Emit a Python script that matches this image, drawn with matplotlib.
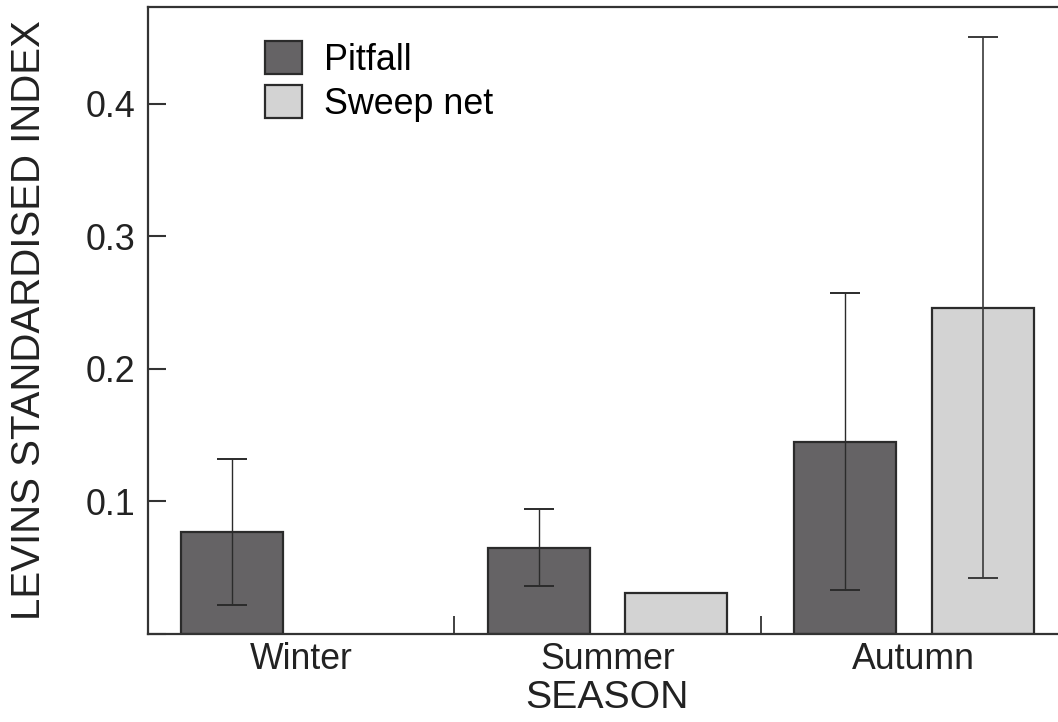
import numpy as np
import matplotlib
matplotlib.use("Agg")
from matplotlib import pyplot as plt

# Data
seasons = ["Winter", "Summer", "Autumn"]
pitfall = [0.077, 0.065, 0.145]
pitfall_err = [0.055, 0.029, 0.112]
sweep = [np.nan, 0.031, 0.246]
sweep_err = [np.nan, np.nan, 0.204]

plt.rcParams["font.family"] = ["Liberation Sans", "DejaVu Sans"]

fig = plt.figure(figsize=(10.58, 7.22), dpi=100)
ax = fig.add_axes([0.1399, 0.1219, 0.8686, 0.8684])

x = np.arange(len(seasons))
w = 0.333
off = 0.225
dark = "#656365"
light = "#d3d3d3"
edge = "#2b2b2b"

ax.bar(x - off, pitfall, w, color=dark, edgecolor=edge, linewidth=1.6, label="Pitfall", zorder=2)
sv = np.array(sweep)
ok = ~np.isnan(sv)
ax.bar((x + off)[ok], sv[ok], w, color=light, edgecolor=edge, linewidth=1.6, label="Sweep net", zorder=2)

ax.errorbar(x - off, pitfall, yerr=pitfall_err, fmt="none", ecolor="#2b2b2b",
            elinewidth=1.0, capsize=11, capthick=1.4, zorder=3)
se = np.array(sweep_err)
ok2 = ~np.isnan(se)
ax.errorbar((x + off)[ok2], sv[ok2], yerr=se[ok2], fmt="none", ecolor="#3a3a3a",
            elinewidth=1.2, capsize=11, capthick=1.4, zorder=3)

ax.set_xlim(-0.5, 2.5)
ax.set_ylim(0, 0.473)
ax.set_xticks(x)
ax.set_xticklabels(seasons, fontsize=25.7, color="#222222")
ax.set_xticks([0.5, 1.5], minor=True)
ax.tick_params(axis="x", which="major", length=0, pad=6)
ax.tick_params(axis="x", which="minor", direction="in", length=13, width=1.3, color="#333333")

ax.set_yticks([0, 0.1, 0.2, 0.3, 0.4])
ax.set_yticklabels(["", "0.1", "0.2", "0.3", "0.4"], fontsize=25.8, color="#222222")
ax.tick_params(axis="y", direction="in", length=12.7, width=1.5, color="#333333", pad=9)

for s in ax.spines.values():
    s.set_linewidth(1.6)
    s.set_color("#333333")

ax.set_xlabel("SEASON", fontsize=28.3, color="#222222", labelpad=2)
ax.set_ylabel("LEVINS STANDARDISED INDEX", fontsize=29, color="#222222", labelpad=27)

ax.legend(loc="upper left", bbox_to_anchor=(0.1275, 0.945), frameon=False,
          fontsize=25.8, handlelength=1.03, handleheight=1.03, handletextpad=0.6,
          labelspacing=0.2, borderpad=0, borderaxespad=0)

fig.savefig("out.png", dpi=100)
